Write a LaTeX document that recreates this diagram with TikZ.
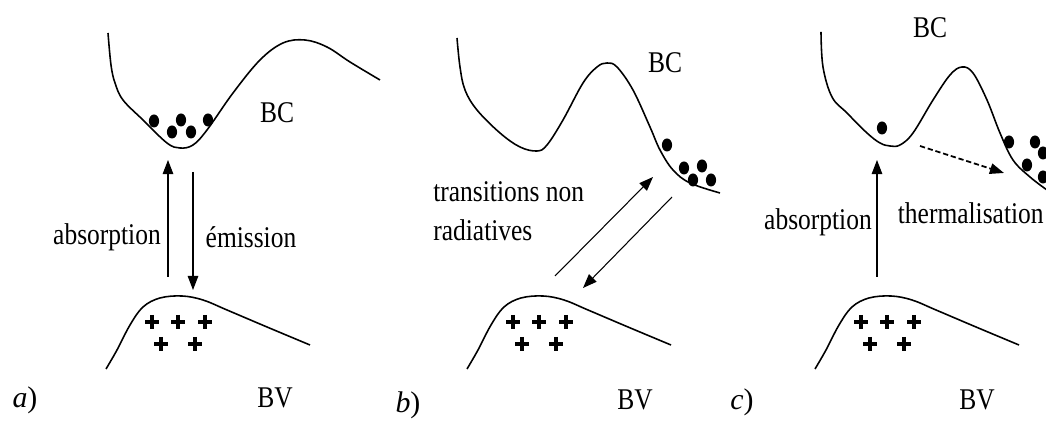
\documentclass[tikz,border=0pt]{standalone}
\usepackage{fontspec}
\setmainfont{Liberation Serif}
\usetikzlibrary{arrows.meta}

\begin{document}
\begin{tikzpicture}[
  x=0.02cm, y=-0.02cm,
  band/.style={line width=0.9pt},
  arrow/.style={-{Triangle[length=8pt,width=6pt]}, line width=0.6pt},
  hole/.style={line width=2.3pt},
  electron/.style={x radius=2.9pt, y radius=3.7pt},
  lbl/.style={font=\fontsize{14.5}{19}\selectfont, inner sep=0pt, yscale=1.18, transform shape},
  panel/.style={font=\fontsize{17}{20}\selectfont, inner sep=0pt}
]
  \useasboundingbox (0,0) rectangle (1046,421);

  % valence bands with their holes, same in a), b) and c)
  \foreach \dx/\p in {0/a, 361/b, 709/c}{
    \begin{scope}[shift={(\dx,0)}]
      \draw[band] plot[smooth, tension=0.6] coordinates {(106,369) (117,350) (130,325) (143,307) (160,298) (182,296) (203,300) (227,310) (267,327) (310,345)};
      \foreach \hx/\hy in {152/322, 178/322, 205/322, 161/344, 195/344}
        \draw[hole] (\hx-7,\hy) -- (\hx+7,\hy) (\hx,\hy-7) -- (\hx,\hy+7);
    \end{scope}
  }

  % a) direct gap
  \draw[band] plot[smooth, tension=0.6] coordinates {(108,33) (111,65) (115,83) (123,100) (143,120) (167,143) (180,148) (193,145) (207,130) (233,93) (260,60) (283,43) (305,40) (327,47) (350,62) (380,80)};
  \foreach \ex/\ey in {154/121, 181/120, 172/132, 191/132, 208/120}
    \fill (\ex,\ey) ellipse [electron];
  \coordinate (abs-a-s) at (168,277);
  \coordinate (abs-a-e) at (168,160);
  \coordinate (emi-a-s) at (193,172);
  \coordinate (emi-a-e) at (193,290);
  \draw[arrow] (abs-a-s) -- (abs-a-e);
  \draw[arrow] (emi-a-s) -- (emi-a-e);
  \node[lbl] (bc-a) at (277,113) {BC};
  \node[lbl] (absorb-a) at (107,237) {absorption};
  \node[lbl] (emit-a) at (251,237) {émission};
  \node[lbl] (bv-a) at (275,398) {BV};
  \node[panel] (tag-a) at (25,400) {\textit{a})};

  % b) indirect gap
  \draw[band] plot[smooth, tension=0.6] coordinates {(457,38) (460,67) (465,90) (477,110) (500,133) (520,147) (537,151) (547,145) (563,120) (583,83) (597,67) (607,63) (617,67) (633,90) (650,127) (660,150) (673,170) (690,183) (720,193)};
  \foreach \ex/\ey in {667/145, 684/168, 702/166, 693/180, 711/180}
    \fill (\ex,\ey) ellipse [electron];
  \coordinate (up-b-s) at (555,276);
  \coordinate (up-b-e) at (653,177);
  \coordinate (dn-b-s) at (672,197);
  \coordinate (dn-b-e) at (583,288);
  \draw[arrow] (up-b-s) -- (up-b-e);
  \draw[arrow] (dn-b-s) -- (dn-b-e);
  \node[lbl] (bc-b) at (665,63) {BC};
  \node[lbl, anchor=west, align=left] (nonrad-b) at (433,211) {transitions non\\radiatives};
  \node[lbl] (bv-b) at (635,400) {BV};
  \node[panel] (tag-b) at (408,405) {\textit{b})};

  % c) absorption then thermalisation
  \draw[band] plot[smooth, tension=0.6] coordinates {(821,32) (823,67) (832,97) (847,113) (867,133) (880,143) (890,146) (900,145) (913,133) (933,100) (950,75) (962,67) (973,73) (987,100) (1000,133) (1013,160) (1030,177) (1047,190)};
  \foreach \ex/\ey in {882/128, 1009/142, 1035/142, 1043/153, 1027/165, 1043/177}
    \fill (\ex,\ey) ellipse [electron];
  \coordinate (abs-c-s) at (877,277);
  \coordinate (abs-c-e) at (877,160);
  \coordinate (th-c-s) at (920,146);
  \coordinate (th-c-e) at (1004,173);
  \draw[arrow] (abs-c-s) -- (abs-c-e);
  \draw[arrow, line width=1pt, dash pattern=on 3pt off 1.6pt] (th-c-s) -- (th-c-e);
  \node[lbl] (bc-c) at (930,28) {BC};
  \node[lbl] (absorb-c) at (818,222) {absorption};
  \node[lbl, anchor=east] (therm-c) at (1044,213) {thermalisation};
  \node[lbl] (bv-c) at (977,400) {BV};
  \node[panel] (tag-c) at (742,402) {\textit{c})};
\end{tikzpicture}
\end{document}
